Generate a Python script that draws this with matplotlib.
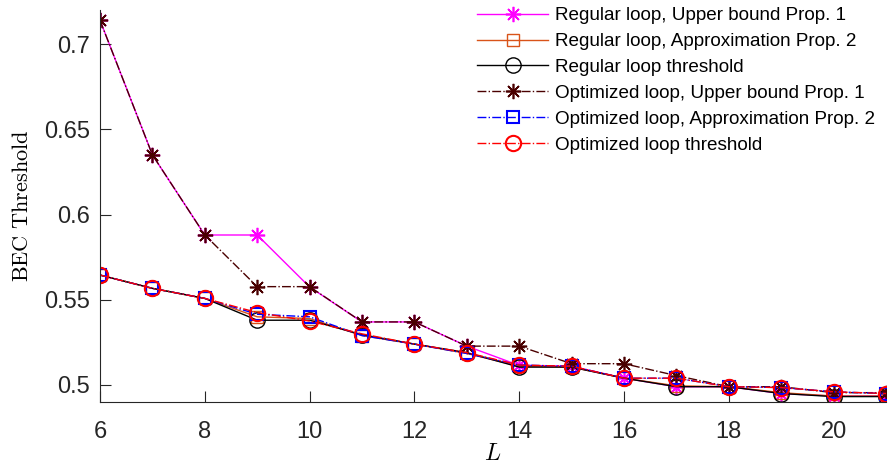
import matplotlib
matplotlib.use("Agg")
import matplotlib.pyplot as plt
import numpy as np

plt.rcParams["font.family"] = ["Liberation Sans", "DejaVu Sans"]
plt.rcParams["mathtext.fontset"] = "cm"

L = np.arange(6, 22)

# regular loop
reg_upper = [0.714, 0.635, 0.588, 0.588, 0.5575, 0.537, 0.537, 0.5228,
             0.5115, 0.511, 0.504, 0.499, 0.499, 0.495, 0.4935, 0.4935]
reg_approx = [0.5645, 0.5567, 0.5508, 0.540, 0.539, 0.529, 0.524, 0.5185,
              0.511, 0.5105, 0.504, 0.4995, 0.499, 0.4955, 0.4935, 0.4935]
reg_thr = [0.5645, 0.5567, 0.5508, 0.538, 0.538, 0.5295, 0.524, 0.519,
           0.5105, 0.5105, 0.504, 0.499, 0.499, 0.495, 0.4932, 0.4932]
# optimized loop
opt_upper = [0.714, 0.635, 0.588, 0.5577, 0.5577, 0.537, 0.537, 0.5228,
             0.5228, 0.5125, 0.5125, 0.5055, 0.499, 0.499, 0.4955, 0.4955]
opt_approx = [0.5645, 0.5567, 0.5508, 0.5415, 0.540, 0.529, 0.524, 0.5185,
              0.5117, 0.511, 0.504, 0.504, 0.499, 0.4985, 0.496, 0.495]
opt_thr = [0.5645, 0.5567, 0.5508, 0.5425, 0.5375, 0.530, 0.524, 0.519,
           0.5117, 0.511, 0.504, 0.504, 0.499, 0.4985, 0.496, 0.495]

labels = [
    "Regular loop, Upper bound Prop. 1",
    "Regular loop, Approximation Prop. 2",
    "Regular loop threshold",
    "Optimized loop, Upper bound Prop. 1",
    "Optimized loop, Approximation Prop. 2",
    "Optimized loop threshold",
]

star = (8, 2, 0)
fig = plt.figure(figsize=(8.88, 4.70), dpi=100)
ax = fig.add_axes([100 / 888, 1 - 401.7 / 470, 786 / 888, 391.7 / 470])

ax.plot(L, reg_upper, "-", color="#ff00ff", lw=1.0, marker=star, ms=11,
        mec="#ff00ff", mew=1.2, label=labels[0])
ax.plot(L, reg_approx, "-", color="#d95319", lw=1.0, marker="s", ms=9,
        mfc="none", mec="#d95319", mew=1.0, label=labels[1])
ax.plot(L, reg_thr, "-", color="black", lw=1.0, marker="o", ms=11,
        mfc="none", mec="black", mew=1.0, label=labels[2])
ax.plot(L, opt_upper, "-.", color="#4a0000", lw=1.0, marker=star, ms=11,
        mec="#4a0000", mew=1.2, label=labels[3])
ax.plot(L, opt_approx, "-.", color="blue", lw=1.0, marker="s", ms=9,
        mfc="none", mec="blue", mew=1.5, label=labels[4])
ax.plot(L, opt_thr, "-.", color="red", lw=1.0, marker="o", ms=11,
        mfc="none", mec="red", mew=1.5, label=labels[5])

ax.set_xlim(6, 21)
ax.set_ylim(0.4902, 0.72)
ax.set_xticks(np.arange(6, 21, 2))
ax.set_yticks([0.5, 0.55, 0.6, 0.65, 0.7])
ax.set_yticklabels(["0.5", "0.55", "0.6", "0.65", "0.7"])
ax.tick_params(direction="in", length=8, width=0.8, colors="#262626",
               labelsize=17)
ax.tick_params(axis="y", pad=7)
ax.tick_params(axis="x", pad=14)
for side in ("top", "right"):
    ax.spines[side].set_visible(False)
for side in ("left", "bottom"):
    ax.spines[side].set_color("#262626")
    ax.spines[side].set_linewidth(0.8)

ax.set_xlabel(r"$L$", fontsize=17, labelpad=0)
ax.set_ylabel(r"$\mathrm{BEC\ Threshold}$", fontsize=16, labelpad=8)

leg = fig.legend(loc="upper left", bbox_to_anchor=(477 / 888, 1 - 7 / 470),
                 frameon=False, fontsize=13.6, handlelength=3.76,
                 handletextpad=0.37, labelspacing=0.46, borderpad=0,
                 borderaxespad=0)

fig.savefig("out.png", dpi=100)
